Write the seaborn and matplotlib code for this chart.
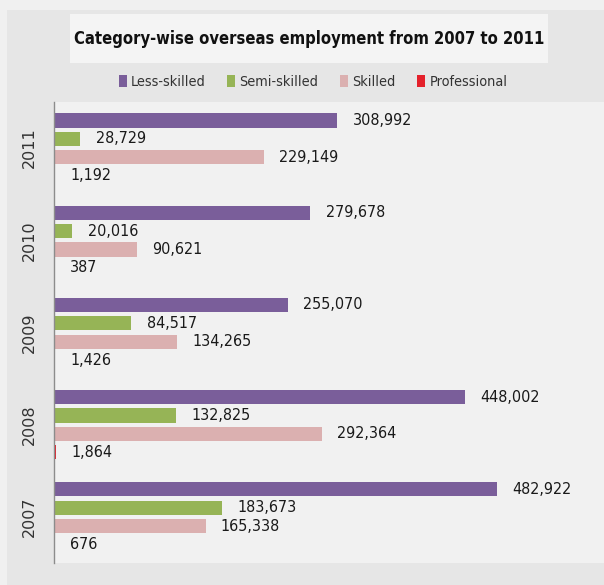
import matplotlib
matplotlib.use("Agg")
import matplotlib.pyplot as plt
from matplotlib import font_manager as fm
from matplotlib.patches import Rectangle
import seaborn as sns
import pandas as pd

# Overseas employment by skill category, 2007-2011
years = ["2011", "2010", "2009", "2008", "2007"]
categories = ["Less-skilled", "Semi-skilled", "Skilled", "Professional"]
less_skilled = [308992, 279678, 255070, 448002, 482922]
semi_skilled = [28729, 20016, 84517, 132825, 183673]
skilled = [229149, 90621, 134265, 292364, 165338]
professional = [1192, 387, 1426, 1864, 676]
colors = ["#7a5e9a", "#96b456", "#dbb0b0", "#e4212b"]

series = [less_skilled, semi_skilled, skilled, professional]
rows = []
for cat, vals in zip(categories, series):
    for yr, v in zip(years, vals):
        rows.append({"Year": yr, "Category": cat, "Count": v})
df = pd.DataFrame(rows)

sns.set_theme(style="white")
available = {f.name for f in fm.fontManager.ttflist}
if "Liberation Sans Narrow" in available:
    plt.rcParams["font.family"] = ["Liberation Sans Narrow", "DejaVu Sans"]
else:
    plt.rcParams["font.family"] = ["DejaVu Sans"]
    plt.rcParams["font.stretch"] = "condensed"

W, H = 604, 585
fig = plt.figure(figsize=(W / 100, H / 100), dpi=100, facecolor="#f0f0f0")

# chart frame and title box (behind the axes)
fig.patches.append(Rectangle((7 / W, 0), 1, (H - 10) / H, transform=fig.transFigure,
                             facecolor="#e6e6e6", edgecolor="none", zorder=-2))
fig.patches.append(Rectangle((70 / W, (H - 63) / H), 478 / W, 49 / H, transform=fig.transFigure,
                             facecolor="#f4f4f4", edgecolor="none", zorder=-1))

ax = fig.add_axes([54 / W, (H - 563) / H, 550 / W, (563 - 102) / H])
ax.set_facecolor("#f1f1f1")

sns.barplot(data=df, y="Year", x="Count", hue="Category", orient="h",
            order=years, hue_order=categories, palette=colors,
            width=0.8, gap=0.23, saturation=1, ax=ax, edgecolor="none")

ax.set_xlim(0, 600000)
ax.set_xlabel("")
ax.set_ylabel("")
ax.set_xticks([])
for side in ["top", "right", "bottom"]:
    ax.spines[side].set_visible(False)
ax.spines["left"].set_color("#8c8c8c")
ax.spines["left"].set_linewidth(1.0)
ax.tick_params(axis="y", length=0, pad=12)
for lab in ax.get_yticklabels():
    lab.set_rotation(90)
    lab.set_verticalalignment("center")
    lab.set_fontfamily("DejaVu Sans")
    lab.set_fontstretch("normal")
    lab.set_fontsize(11.5)
    lab.set_color("#333333")

for cont in ax.containers:
    ax.bar_label(cont, fmt="{:,.0f}", padding=11, fontsize=11.5, color="#1a1a1a")

leg = ax.get_legend()
handles = leg.legend_handles
leg.remove()

renderer = fig.canvas.get_renderer()

title = fig.text((70 + 548) / 2 / W, (H - 39) / H,
                 "Category-wise overseas employment from 2007 to 2011",
                 ha="center", va="center", fontsize=16, fontweight="bold", color="#111111")
# scale the title font so it spans the title box
tw = title.get_window_extent(renderer).width
title.set_fontsize(16 * 472 / tw)

leg_kw = dict(loc="center", bbox_to_anchor=(313 / W, (H - 82) / H), ncol=4, frameon=False,
              handlelength=0.55, handleheight=0.9, handletextpad=0.3, columnspacing=1.5,
              labelcolor="#333333")
leg_size = 13
for _ in range(3):
    lg = fig.legend(handles, categories, fontsize=leg_size, **leg_kw)
    w = lg.get_window_extent(renderer).width
    lg.remove()
    leg_size = leg_size * 400 / w
fig.legend(handles, categories, fontsize=leg_size, **leg_kw)

fig.savefig("out.png", dpi=100, facecolor=fig.get_facecolor())
